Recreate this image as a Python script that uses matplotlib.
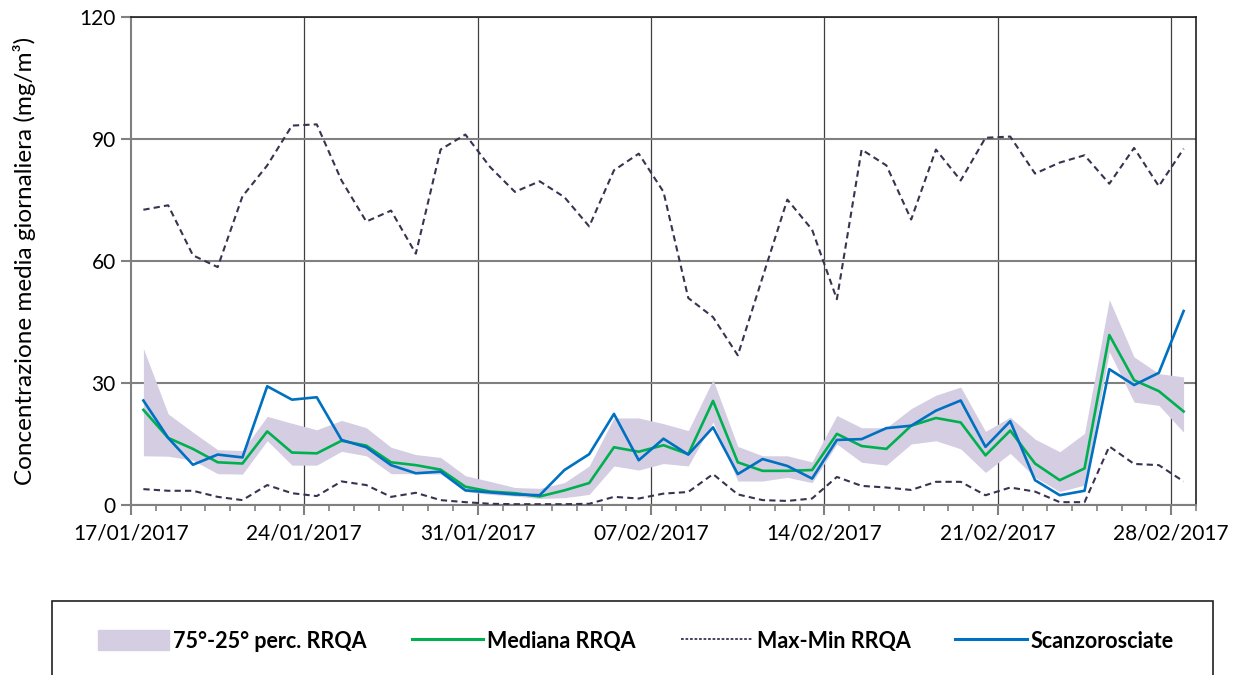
import matplotlib
matplotlib.use('Agg')
import matplotlib.pyplot as plt
import matplotlib.dates as mdates
from matplotlib.patches import Rectangle
from matplotlib.lines import Line2D
import numpy as np
import pandas as pd

plt.rcParams['font.family'] = ['Lato', 'DejaVu Sans']

# daily values 17/01/2017 - 28/02/2017
days = pd.date_range('2017-01-17', '2017-02-28', freq='D')

scanzorosciate = [25.7, 16.5, 9.9, 12.4, 11.7, 29.2, 25.9, 26.5, 16.0, 14.2, 9.8, 7.8, 8.2, 3.6, 3.1,
                  2.6, 2.4, 8.6, 12.5, 22.4, 11.0, 16.3, 12.4, 19.1, 7.6, 11.3, 9.6, 6.5, 16.0,
                  16.2, 18.9, 19.5, 23.2, 25.7, 14.3, 20.6, 6.1, 2.4, 3.5, 33.4, 29.5, 32.5, 47.7]
mediana = [23.4, 16.5, 13.8, 10.5, 10.2, 18.1, 12.9, 12.7, 15.8, 14.6, 10.5, 9.8, 8.7, 4.5, 3.3,
           2.9, 2.1, 3.6, 5.4, 14.2, 13.1, 14.7, 12.5, 25.6, 10.5, 8.4, 8.4, 8.6, 17.5,
           14.5, 13.8, 19.5, 21.4, 20.3, 12.2, 18.3, 10.2, 6.1, 9.0, 41.8, 30.7, 28.0, 23.0]
perc75 = [38.5, 22.4, 17.9, 13.6, 13.4, 21.8, 20.1, 18.5, 20.8, 19.0, 14.2, 12.4, 11.7, 7.2, 5.8,
          4.3, 4.1, 5.5, 9.6, 21.4, 21.4, 20.0, 18.3, 30.8, 14.4, 12.1, 12.1, 10.6, 22.0,
          19.0, 19.0, 23.7, 27.0, 29.0, 18.1, 21.6, 16.2, 13.1, 17.6, 50.5, 36.4, 32.3, 31.5]
perc25 = [12.1, 12.0, 11.0, 7.7, 7.6, 15.8, 9.8, 9.8, 13.2, 12.1, 7.7, 7.7, 7.6, 3.3, 2.6,
          2.2, 1.6, 1.8, 2.6, 9.6, 8.6, 10.2, 9.6, 20.4, 5.9, 5.9, 6.8, 5.5, 15.0,
          10.5, 9.8, 15.0, 15.8, 13.8, 8.0, 12.7, 6.8, 3.3, 4.9, 37.7, 25.3, 24.5, 17.9]
massimo = [72.6, 73.7, 61.4, 58.5, 75.9, 83.5, 93.3, 93.6, 79.8, 69.7, 72.4, 61.8, 87.4, 91.1, 83.1,
           77.0, 79.6, 75.7, 68.5, 82.3, 86.4, 77.0, 50.9, 46.2, 36.8, 56.0, 75.1, 67.7, 50.6,
           87.4, 83.5, 70.2, 87.4, 79.8, 90.3, 90.6, 81.5, 84.2, 86.0, 79.0, 87.8, 78.4, 87.6]
minimo = [3.9, 3.5, 3.5, 2.0, 1.2, 4.9, 2.9, 2.2, 5.8, 4.9, 2.0, 3.0, 1.2, 0.7, 0.3,
          0.2, 0.2, 0.2, 0.3, 2.0, 1.6, 2.8, 3.2, 7.6, 2.6, 1.2, 1.0, 1.6, 6.9,
          4.7, 4.3, 3.7, 5.7, 5.7, 2.4, 4.3, 3.3, 0.7, 0.7, 14.4, 10.1, 9.8, 5.8]

week_ticks = pd.date_range('2017-01-17', '2017-02-28', freq='7D')

blue = '#0070c0'
green = '#00b050'
band = '#d5cde2'
dark = '#3b3150'

fig = plt.figure(figsize=(12.52, 6.75), dpi=100)
ax = fig.add_axes([131 / 1252, 1 - 505 / 675, (1196 - 131) / 1252, (505 - 17) / 675])

x = days + pd.Timedelta(hours=12)
ax.fill_between(x, perc25, perc75, color=band, lw=0, zorder=2)
ax.plot(x, massimo, color=dark, lw=1.5, dashes=(3, 2), zorder=3)
ax.plot(x, minimo, color=dark, lw=1.5, dashes=(3, 2), zorder=3)
ax.plot(x, mediana, color=green, lw=1.9, zorder=4)
ax.plot(x, scanzorosciate, color=blue, lw=1.9, zorder=5)

ax.set_xlim(pd.Timestamp('2017-01-17'), pd.Timestamp('2017-03-01'))
ax.set_ylim(0, 120)
ax.set_yticks([0, 30, 60, 90, 120])
ax.set_xticks(week_ticks)
ax.xaxis.set_major_formatter(mdates.DateFormatter('%d/%m/%Y'))
ax.xaxis.set_minor_locator(mdates.DayLocator())

ax.grid(axis='y', color='#808080', lw=1.5, zorder=1)
for d in week_ticks[1:]:
    ax.axvline(d, color='#404040', lw=0.9, zorder=1)

for side in ['left', 'bottom']:
    ax.spines[side].set_color('#808080')
    ax.spines[side].set_linewidth(1.5)
for side in ['top', 'right']:
    ax.spines[side].set_color('#202020')
    ax.spines[side].set_linewidth(1.2)

ax.tick_params(axis='y', length=7, width=1.5, color='#808080', labelsize=15, pad=4)
ax.tick_params(axis='x', which='major', length=7, width=1.5, color='#808080', labelsize=15, pad=6)
ax.tick_params(axis='x', which='minor', length=4, width=1.2, color='#808080')

ax.set_ylabel('Concentrazione media giornaliera (mg/m³)', fontsize=17.5, labelpad=31)

# legend in a box at the bottom
fig.patches.append(Rectangle((52 / 1252, -0.1), (1213 - 52) / 1252, 0.1 + 1 - 601 / 675,
                             transform=fig.transFigure, facecolor='none', edgecolor='#202020',
                             lw=1.2))
handles = [Rectangle((0, 0), 1, 1, color=band),
           Line2D([], [], color=green, lw=2.2),
           Line2D([], [], color=dark, lw=1.3, dashes=(1.5, 1)),
           Line2D([], [], color=blue, lw=2.2)]
labels = ['75°-25° perc. RRQA', 'Mediana RRQA', 'Max-Min RRQA', 'Scanzorosciate']
fig.legend(handles, labels, loc='center', bbox_to_anchor=(636 / 1252, 1 - 641 / 675), ncol=4,
           frameon=False, handlelength=3.3, handleheight=1.0, handletextpad=0.2, columnspacing=2.1,
           prop={'weight': 'bold', 'size': 15.5})

fig.savefig('out.png', dpi=100)
